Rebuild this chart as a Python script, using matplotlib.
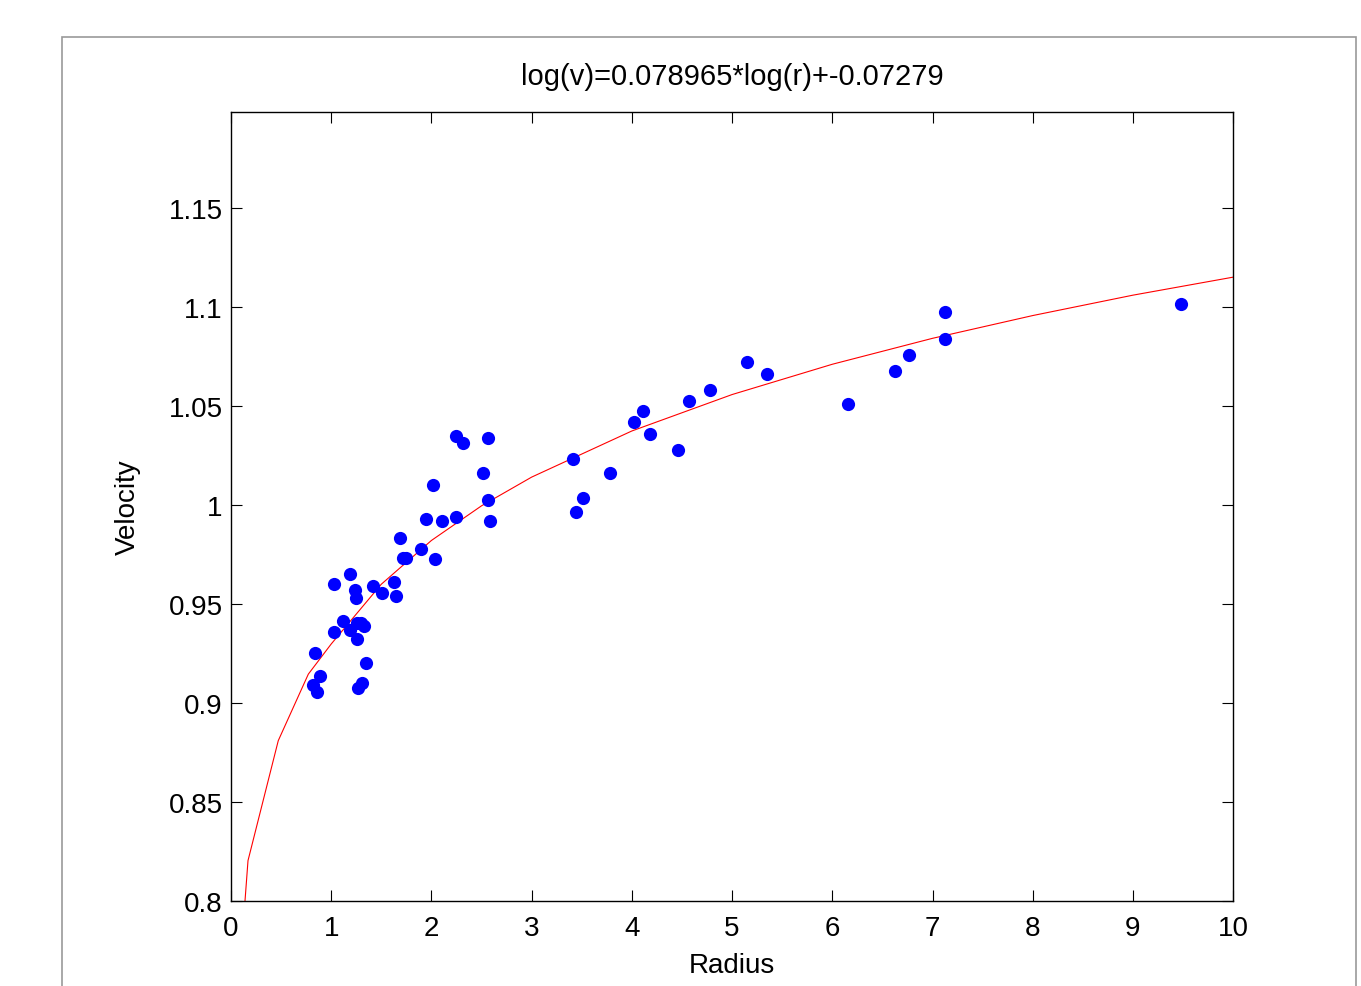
import matplotlib
matplotlib.use('Agg')
import matplotlib.pyplot as plt
from matplotlib.patches import Rectangle

radius = [2.243, 2.313, 2.565, 2.518, 2.013, 2.565, 2.585, 1.943, 2.106, 2.243,
          1.690, 1.899, 1.717, 1.750, 2.032, 1.184, 1.024, 1.234, 1.248, 1.415,
          1.504, 1.623, 1.647, 1.118, 1.024, 1.188, 1.254, 1.300, 1.330, 1.254,
          0.838, 1.347, 0.885, 0.815, 0.861, 1.304, 1.271,
          3.416, 3.786, 3.509, 3.443, 4.019, 4.108, 4.178, 4.458, 4.571, 4.777,
          5.146, 5.353, 6.156, 6.622, 6.761, 7.129, 7.129, 9.481]
velocity = [1.0350, 1.0313, 1.0337, 1.0162, 1.0102, 1.0024, 0.9918, 0.9929, 0.9918, 0.9939,
            0.9835, 0.9776, 0.9731, 0.9731, 0.9729, 0.9650, 0.9603, 0.9569, 0.9530, 0.9589,
            0.9556, 0.9613, 0.9542, 0.9416, 0.9357, 0.9369, 0.9406, 0.9403, 0.9390, 0.9321,
            0.9251, 0.9204, 0.9136, 0.9091, 0.9054, 0.9101, 0.9077,
            1.0231, 1.0162, 1.0035, 0.9963, 1.0419, 1.0475, 1.0360, 1.0278, 1.0523, 1.0581,
            1.0720, 1.0661, 1.0510, 1.0677, 1.0756, 1.0976, 1.0837, 1.1015]

# fitted curve as drawn (red line)
fit_r = [0.14, 0.17, 0.472, 0.772, 1, 1.5, 2, 2.5, 3, 4, 5, 6, 7, 8, 9, 10]
fit_v = [0.800, 0.8204, 0.881, 0.9146, 0.9298, 0.9600, 0.9821, 0.9996,
         1.0141, 1.0374, 1.0558, 1.0711, 1.0842, 1.0957, 1.1060, 1.1151]

xticks = list(range(11))
yticks = [0.8, 0.85, 0.9, 0.95, 1.0, 1.05, 1.1, 1.15]
ytick_labels = ['0.8', '0.85', '0.9', '0.95', '1', '1.05', '1.1', '1.15']

plt.rcParams['font.family'] = ['Liberation Sans', 'DejaVu Sans']

fig = plt.figure(figsize=(13.61, 9.87), dpi=100)
fig.patches.append(Rectangle((0.0456, -0.05), 0.951, 1.0115, transform=fig.transFigure,
                             fill=False, edgecolor='#999999', linewidth=1.2))

ax = fig.add_axes([0.1697, 0.0861, 0.7364, 0.7994])
ax.plot(fit_r, fit_v, color='red', linewidth=0.8)
ax.plot(radius, velocity, 'o', color='blue', markersize=9.5, markeredgewidth=0)

ax.set_xlim(0, 10)
ax.set_ylim(0.8, 1.1985)
ax.set_xticks(xticks)
ax.set_yticks(yticks)
ax.set_yticklabels(ytick_labels)
ax.tick_params(direction='in', length=8, width=0.8, top=True, right=True,
               labelsize=20, pad=6)
ax.tick_params(axis='x', pad=10)
for s in ax.spines.values():
    s.set_linewidth(1.0)

ax.set_xlabel('Radius', fontsize=20, labelpad=8)
ax.set_ylabel('Velocity', fontsize=20, labelpad=20)
ax.set_title('log(v)=0.078965*log(r)+-0.07279', fontsize=21, pad=20)

fig.savefig('out.png', dpi=100)
